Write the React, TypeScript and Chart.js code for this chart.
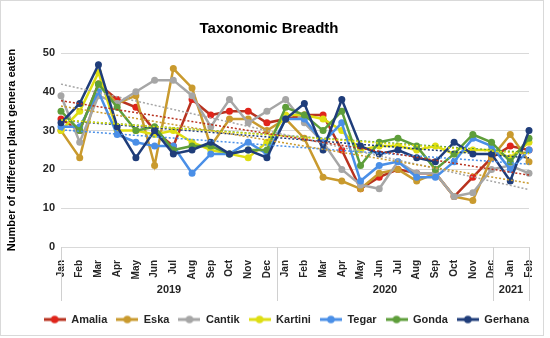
import React, { useEffect, useRef } from 'react';
import { Chart, registerables } from 'chart.js';

Chart.register(...registerables);

const months = ['Jan','Feb','Mar','Apr','May','Jun','Jul','Aug','Sep','Oct','Nov','Dec','Jan','Feb','Mar','Apr','May','Jun','Jul','Aug','Sep','Oct','Nov','Dec','Jan','Feb'];
const yearLabels = ['2019', '2020', '2021'];
const yearSpans = [12, 12, 2];

const seriesNames = ['Amalia', 'Eska', 'Cantik', 'Kartini', 'Tegar', 'Gonda', 'Gerhana'];

const amalia  = [33, 30, 42, 38, 36, 30, 26, 38, 34, 35, 35, 32, 33, 34, 34, 25, 15, 18, 20, 19, 19, 13, 18, 23, 26, 25];
const eska    = [30, 23, 42, 37, 39, 21, 46, 41, 26, 33, 33, 30, 33, 28, 18, 17, 15, 19, 20, 17, 19, 13, 12, 23, 29, 22];
const cantik  = [39, 27, 39, 37, 40, 43, 43, 39, 31, 38, 32, 35, 38, 32, 27, 20, 16, 15, 22, 19, 19, 13, 14, 20, 21, 19];
const kartini = [30, 35, 45, 30, 30, 29, 30, 27, 25, 24, 23, 27, 34, 34, 33, 30, 25, 26, 26, 25, 26, 24, 25, 25, 23, 27];
const tegar   = [31, 31, 40, 29, 27, 26, 26, 19, 24, 24, 27, 24, 33, 33, 27, 32, 17, 21, 22, 18, 18, 22, 28, 26, 20, 25];
const gonda   = [35, 30, 42, 36, 30, 31, 25, 26, 26, 24, 25, 25, 36, 34, 30, 35, 21, 27, 28, 26, 20, 24, 29, 27, 22, 28];
const gerhana = [32, 37, 47, 31, 23, 30, 24, 25, 27, 24, 25, 23, 33, 37, 25, 38, 26, 24, 25, 23, 22, 27, 24, 24, 17, 30];

const seriesValues = [amalia, eska, cantik, kartini, tegar, gonda, gerhana];
const lineColors = ['#B8321F', '#C99A2E', '#A6A6A6', '#DEDE12', '#4A8FE7', '#5E9E3A', '#1F3D7A'];
const dotColors  = ['#E0241B', '#C99A2E', '#A6A6A6', '#DEDE12', '#4A8FE7', '#5E9E3A', '#1F3D7A'];

const FONT = "'Liberation Sans', Arial, sans-serif";

function trendOf(vals: number[]): number[] {
  const n = vals.length;
  let sx = 0, sy = 0, sxy = 0, sxx = 0;
  vals.forEach((v, i) => { sx += i; sy += v; sxy += i * v; sxx += i * i; });
  const b = (n * sxy - sx * sy) / (n * sxx - sx * sx);
  const a = (sy - b * sx) / n;
  return vals.map((_, i) => a + b * i);
}

function makeMarker(line: string, dot: string): HTMLCanvasElement {
  const c = document.createElement('canvas');
  c.width = 22; c.height = 10;
  const g = c.getContext('2d')!;
  g.strokeStyle = line; g.lineWidth = 3;
  g.beginPath(); g.moveTo(0, 5); g.lineTo(22, 5); g.stroke();
  g.fillStyle = dot;
  g.beginPath(); g.arc(11, 5, 3.8, 0, Math.PI * 2); g.fill();
  return c;
}

const yearPlugin = {
  id: 'yearPlugin',
  afterDraw(chart: any) {
    const { ctx, chartArea } = chart;
    const left = chartArea.left, right = chartArea.right;
    const step = (right - left) / months.length;
    const top = chartArea.bottom;
    const bottom = top + 54;
    ctx.save();
    ctx.strokeStyle = '#D0D0D0';
    ctx.lineWidth = 1;
    let idx = 0;
    const bounds = [0];
    yearSpans.forEach(s => { idx += s; bounds.push(idx); });
    bounds.forEach(b => {
      const x = Math.round(left + b * step) + 0.5;
      ctx.beginPath(); ctx.moveTo(x, top); ctx.lineTo(x, bottom); ctx.stroke();
    });
    ctx.fillStyle = '#262626';
    ctx.font = `bold 11px ${FONT}`;
    ctx.textAlign = 'center';
    ctx.textBaseline = 'middle';
    yearLabels.forEach((lab, i) => {
      const cx = left + ((bounds[i] + bounds[i + 1]) / 2) * step;
      ctx.fillText(lab, cx, top + 43);
    });
    ctx.strokeStyle = '#D9D9D9';
    ctx.strokeRect(0.5, 0.5, 543, 335);
    ctx.restore();
  }
};

export default function App() {
  const ref = useRef<HTMLCanvasElement>(null);
  useEffect(() => {
    document.body.style.margin = '0';
    const markers = seriesNames.map((_, i) => makeMarker(lineColors[i], dotColors[i]));
    const mainSets = seriesNames.map((name, i) => ({
      label: name,
      data: seriesValues[i],
      borderColor: lineColors[i],
      backgroundColor: dotColors[i],
      pointBackgroundColor: dotColors[i],
      pointBorderColor: dotColors[i],
      borderWidth: 2.5,
      pointRadius: 3.5,
      pointBorderWidth: 0,
      tension: 0,
      order: 10 + (seriesNames.length - i),
    }));
    const trendSets = seriesNames.map((name, i) => ({
      label: name + ' trend',
      data: trendOf(seriesValues[i]),
      borderColor: lineColors[i],
      borderWidth: 1.5,
      borderDash: [2, 2],
      pointRadius: 0,
      tension: 0,
      order: 1,
    }));
    const chart = new Chart(ref.current!, {
      type: 'line',
      data: { labels: months, datasets: [...mainSets, ...trendSets] as any },
      plugins: [yearPlugin],
      options: {
        animation: false,
        responsive: false,
        layout: { padding: { left: 0, right: 12, top: 0, bottom: 3 } },
        plugins: {
          title: {
            display: true,
            text: 'Taxonomic Breadth',
            color: '#000',
            font: { family: FONT, size: 15, weight: 'bold' },
            padding: { top: 20, bottom: 15 },
          },
          legend: {
            position: 'bottom',
            align: 'end',
            labels: {
              usePointStyle: true,
              pointStyleWidth: 22,
              padding: 9,
              color: '#262626',
              font: { family: FONT, size: 11, weight: 'bold' },
              generateLabels: () => seriesNames.map((name, i) => ({
                text: name,
                pointStyle: markers[i],
                fillStyle: dotColors[i],
                strokeStyle: lineColors[i],
                lineWidth: 0,
                hidden: false,
                datasetIndex: i,
                fontColor: '#262626',
              })) as any,
            },
          },
          tooltip: { enabled: false },
        },
        scales: {
          x: {
            grid: { display: false },
            border: { display: false },
            ticks: {
              autoSkip: false,
              maxRotation: 90,
              minRotation: 90,
              padding: 5,
              color: '#262626',
              font: { family: FONT, size: 10, weight: 'bold' },
            },
            afterFit: (s: any) => { s.height = 58; },
          },
          y: {
            min: 0,
            max: 50,
            ticks: {
              stepSize: 10,
              padding: 6,
              color: '#262626',
              font: { family: FONT, size: 11, weight: 'bold' },
            },
            grid: { color: '#D9D9D9', drawTicks: false, lineWidth: 1 },
            border: { display: false },
            title: {
              display: true,
              text: 'Number of different plant genera eaten',
              color: '#000',
              font: { family: FONT, size: 11, weight: 'bold' },
              padding: { top: 5, bottom: 0 },
            },
            afterFit: (s: any) => { s.width = 61; },
          },
          yr: {
            position: 'right',
            display: true,
            grid: { display: false },
            border: { display: false },
            ticks: { display: false },
            afterFit: (s: any) => { s.width = 9; },
          },
        },
      } as any,
    });
    return () => chart.destroy();
  }, []);
  return (
    <div style={{ width: 550, height: 338 }}>
      <canvas ref={ref} width={550} height={338} />
    </div>
  );
}
